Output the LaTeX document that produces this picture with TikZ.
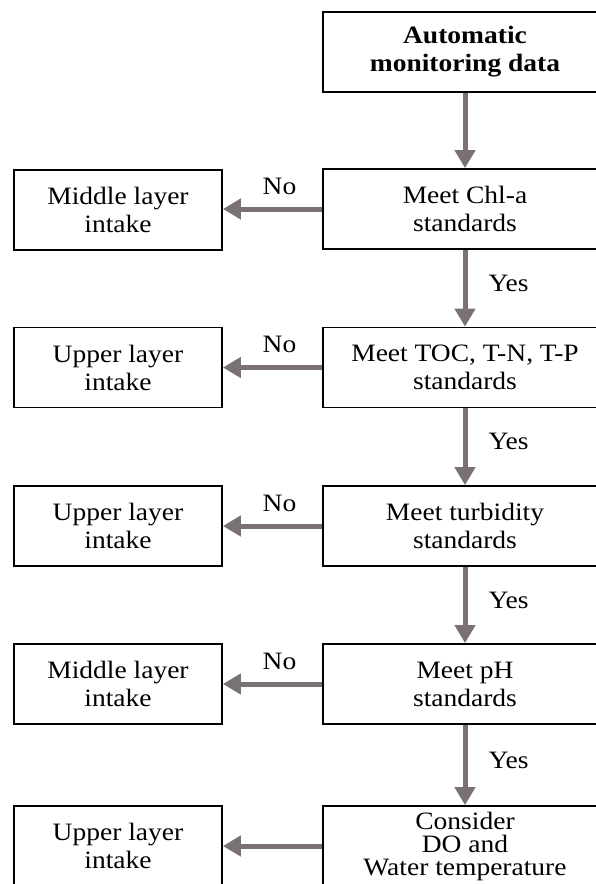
\documentclass[tikz,border=0pt]{standalone}
\usepackage{fontspec}
\setmainfont[FakeStretch=1.1]{Liberation Serif}
\usetikzlibrary{arrows.meta}
\definecolor{arrowgray}{RGB}{122,114,114}
\begin{document}
\begin{tikzpicture}[x=1pt,y=-1pt,
  box/.style={draw=black,line width=1.8pt,align=center,inner sep=0pt,font=\fontsize{25}{28}\selectfont},
  rbox/.style={box,minimum width=284pt,minimum height=80pt},
  lbox/.style={box,minimum width=208pt,minimum height=80pt},
  flow/.style={draw=arrowgray,line width=5pt,-{Triangle[width=20pt,length=18pt]}},
  lab/.style={font=\fontsize{25}{28}\selectfont,inner sep=0pt},
  nolab/.style={lab,above=12pt,xshift=7pt},
  yeslab/.style={lab,right=21pt,yshift=5pt}]
\useasboundingbox (0,0) rectangle (596,884);
\clip (0,0) rectangle (596,884);
% right column
\node[rbox] (top) at (465,52) {\textbf{Automatic}\\\textbf{monitoring data}};
\node[rbox] (chl) at (465,209) {Meet Chl-a\\standards};
\node[rbox] (toc) at (465,367.5) {Meet TOC, T-N, T-P\\standards};
\node[rbox] (tur) at (465,526) {Meet turbidity\\standards};
\node[rbox] (ph) at (465,684) {Meet pH\\standards};
\node[rbox] (con) at (465,846) {Consider\\[-5pt]DO and\\[-5pt]Water temperature};
% left column
\node[lbox] (l1) at (118,210) {Middle layer\\intake};
\node[lbox] (l2) at (118,367.5) {Upper layer\\intake};
\node[lbox] (l3) at (118,526) {Upper layer\\intake};
\node[lbox] (l4) at (118,684) {Middle layer\\intake};
\node[lbox] (l5) at (118,846) {Upper layer\\intake};
% vertical arrows
\draw[flow] (top) -- (chl);
\draw[flow] (chl) -- node[yeslab] (y1) {Yes} (toc);
\draw[flow] (toc) -- node[yeslab] (y2) {Yes} (tur);
\draw[flow] (tur) -- node[yeslab] (y3) {Yes} (ph);
\draw[flow] (ph) -- node[yeslab] (y4) {Yes} (con);
% horizontal arrows
\draw[flow] (chl.west) -- node[nolab] (n1) {No} (l1.east |- chl.west);
\draw[flow] (toc.west) -- node[nolab] (n2) {No} (l2.east |- toc.west);
\draw[flow] (tur.west) -- node[nolab] (n3) {No} (l3.east |- tur.west);
\draw[flow] (ph.west) -- node[nolab] (n4) {No} (l4.east |- ph.west);
\draw[flow] (con.west) -- (l5.east |- con.west);
\end{tikzpicture}
\end{document}
